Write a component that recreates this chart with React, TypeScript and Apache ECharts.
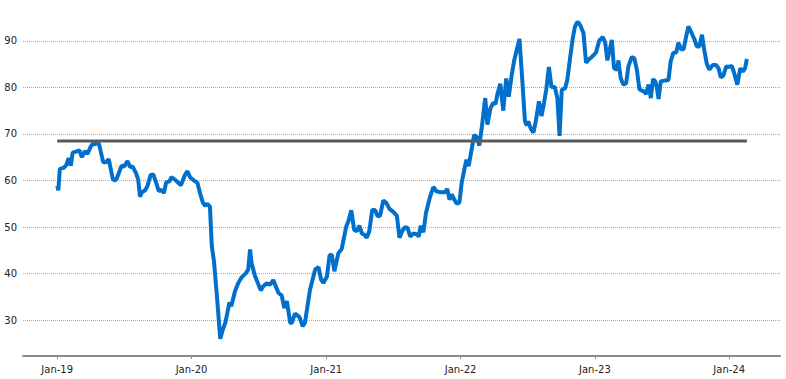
import React, { useEffect, useRef } from "react";
import * as echarts from "echarts";

const dates: string[] = [
  "2019-01-01","2019-01-04","2019-01-08","2019-01-18","2019-01-25","2019-02-01","2019-02-07","2019-02-12","2019-02-21","2019-03-02",
  "2019-03-09","2019-03-17","2019-03-24","2019-04-02","2019-04-09","2019-04-14","2019-04-20","2019-04-25","2019-05-06","2019-05-14",
  "2019-05-21","2019-06-01","2019-06-07","2019-06-12","2019-06-25","2019-07-02","2019-07-11","2019-07-18","2019-07-25","2019-08-03",
  "2019-08-09","2019-08-14","2019-08-19","2019-08-28","2019-09-03","2019-09-12","2019-09-19","2019-09-27","2019-10-04","2019-10-11",
  "2019-10-18","2019-10-24","2019-11-02","2019-11-07","2019-11-17","2019-11-26","2019-12-03","2019-12-14","2019-12-21","2019-12-28",
  "2020-01-11","2020-01-17","2020-01-24","2020-02-01","2020-02-07","2020-02-13","2020-02-20","2020-02-25","2020-03-02","2020-03-10",
  "2020-03-19","2020-03-26","2020-04-02","2020-04-13","2020-04-18","2020-04-28","2020-05-07","2020-05-16","2020-05-28","2020-06-03",
  "2020-06-08","2020-06-12","2020-06-21","2020-07-07","2020-07-14","2020-07-23","2020-08-01","2020-08-10","2020-08-24","2020-09-02",
  "2020-09-09","2020-09-16","2020-09-25","2020-09-29","2020-10-08","2020-10-20","2020-10-29","2020-11-04","2020-11-18","2020-12-02",
  "2020-12-11","2020-12-18","2020-12-24","2021-01-03","2021-01-10","2021-01-16","2021-01-23","2021-02-03","2021-02-12","2021-02-24",
  "2021-03-02","2021-03-10","2021-03-18","2021-03-25","2021-04-01","2021-04-08","2021-04-14","2021-04-21","2021-04-28","2021-05-06",
  "2021-05-14","2021-05-20","2021-05-27","2021-06-05","2021-06-13","2021-06-22","2021-07-03","2021-07-12","2021-07-19","2021-07-26",
  "2021-08-03","2021-08-10","2021-08-17","2021-08-26","2021-09-06","2021-09-09","2021-09-15","2021-09-22","2021-09-29","2021-10-10",
  "2021-10-19","2021-10-27","2021-11-06","2021-11-20","2021-11-26","2021-12-02","2021-12-08","2021-12-15","2021-12-22","2021-12-29",
  "2022-01-04","2022-01-11","2022-01-17","2022-01-23","2022-02-07","2022-02-14","2022-02-21","2022-02-28","2022-03-09","2022-03-15",
  "2022-03-23","2022-03-31","2022-04-06","2022-04-11","2022-04-19","2022-04-27","2022-05-05","2022-05-12","2022-05-20","2022-05-27",
  "2022-06-03","2022-06-10","2022-06-17","2022-06-25","2022-06-30","2022-07-04","2022-07-11","2022-07-18","2022-07-25","2022-08-02",
  "2022-08-09","2022-08-16","2022-08-22","2022-08-29","2022-09-05","2022-09-14","2022-09-21","2022-09-27","2022-10-03","2022-10-12",
  "2022-10-18","2022-10-26","2022-11-02","2022-11-08","2022-11-15","2022-11-22","2022-12-01","2022-12-08","2022-12-17","2022-12-27",
  "2023-01-04","2023-01-13","2023-01-23","2023-01-29","2023-02-04","2023-02-16","2023-02-22","2023-03-02","2023-03-06","2023-03-12",
  "2023-03-19","2023-03-27","2023-04-02","2023-04-11","2023-04-18","2023-04-25","2023-05-02","2023-05-09","2023-05-15","2023-05-20",
  "2023-05-27","2023-06-02","2023-06-08","2023-06-14","2023-06-18","2023-06-23","2023-06-29","2023-07-11","2023-07-20","2023-07-26",
  "2023-08-02","2023-08-10","2023-08-16","2023-08-23","2023-08-30","2023-09-06","2023-09-12","2023-09-19","2023-09-28","2023-10-05",
  "2023-10-12","2023-10-19","2023-10-25","2023-11-01","2023-11-08","2023-11-17","2023-11-26","2023-12-03","2023-12-09","2023-12-16",
  "2023-12-24","2023-12-31","2024-01-08","2024-01-14","2024-01-23","2024-01-31","2024-02-07","2024-02-13","2024-02-18",
];

const values: number[] = [
  58.8,57.9,62.5,62.7,63.2,64.8,63.2,66.0,66.2,66.5,
  65.0,66.3,65.7,67.3,68.0,67.7,68.4,67.7,63.9,63.9,
  64.6,60.3,60.0,60.5,63.2,63.0,64.2,62.9,63.0,61.6,
  60.2,56.5,57.5,57.9,58.8,61.2,61.3,59.5,57.7,58.0,
  57.3,59.6,59.8,60.7,60.2,59.5,59.0,61.2,62.0,60.7,
  59.8,59.5,57.3,55.2,54.6,55.0,54.4,45.9,42.6,35.1,
  26.0,28.0,29.5,33.8,33.0,36.2,38.0,39.2,40.1,40.9,
  45.2,42.3,39.6,36.4,37.3,37.9,37.6,38.6,35.9,35.3,
  32.6,34.1,29.5,29.3,31.4,30.7,28.7,29.4,36.6,40.9,
  41.4,38.7,38.0,39.4,43.9,44.1,40.5,44.4,45.3,50.0,
  51.2,53.6,49.4,49.1,50.3,48.6,48.4,47.7,49.1,53.7,
  53.6,52.4,52.4,55.7,55.2,53.9,53.2,52.4,47.7,49.1,
  50.0,49.8,48.0,48.6,48.4,47.9,50.3,48.9,53.0,56.5,
  58.6,57.7,57.5,57.5,58.2,55.9,57.0,55.9,55.0,55.3,
  59.5,62.3,64.5,63.1,69.8,69.3,67.5,71.6,77.7,72.0,
  75.5,76.7,76.4,78.5,80.8,75.0,81.9,78.0,82.7,85.9,
  88.2,90.4,82.4,72.7,71.8,72.7,71.1,70.3,73.0,77.0,
  73.8,76.8,79.6,84.4,80.1,80.1,77.7,69.6,79.5,79.8,
  81.6,86.6,90.6,93.1,94.1,93.4,91.7,85.3,86.1,86.8,
  87.5,90.1,90.8,89.6,85.8,90.2,84.1,83.8,85.8,82.0,
  80.6,80.9,84.5,86.5,86.3,83.8,79.6,79.3,79.1,78.6,
  80.6,77.7,81.8,81.3,80.1,77.5,81.3,81.5,81.6,85.6,
  87.4,87.5,89.6,88.2,88.2,90.9,93.1,92.0,90.4,88.8,
  88.8,91.3,88.1,85.1,83.8,84.8,84.8,84.1,82.2,82.5,
  84.5,84.4,84.6,83.2,80.6,84.1,83.4,84.1,86.1,
];

const averageValue = 68.5;
const averageDates: string[] = ["2019-01-01", "2024-02-18"];

const yTicks: number[] = [30, 40, 50, 60, 70, 80, 90];
const xTickDates: string[] = ["2019-01-01", "2020-01-01", "2021-01-01", "2022-01-01", "2023-01-01", "2024-01-01"];

const ts = (s: string) => new Date(s + "T00:00:00").getTime();

export default function App() {
  const ref = useRef<HTMLDivElement>(null);
  useEffect(() => {
    if (!ref.current) return;
    const chart = echarts.init(ref.current, null, { renderer: "svg" });
    const mainData = dates.map((d, i) => [ts(d), values[i]]);
    const avgData = averageDates.map((d) => [ts(d), averageValue]);
    const xTicks = xTickDates.map(ts);
    chart.setOption({
      animation: false,
      backgroundColor: "#ffffff",
      grid: { left: 23, right: 6, top: 5, bottom: 23, containLabel: false },
      xAxis: {
        type: "value",
        min: ts("2018-09-30"),
        max: ts("2024-05-18"),
        axisLine: { show: true, lineStyle: { color: "#8a8a8a", width: 2 } },
        axisTick: { show: true, customValues: xTicks, length: 3, lineStyle: { color: "#8a8a8a", width: 1 } },
        axisLabel: {
          customValues: xTicks,
          formatter: (v: number) => {
            const d = new Date(v);
            return "Jan-" + String(d.getFullYear()).slice(2);
          },
          color: "#222",
          fontFamily: "DejaVu Sans",
          fontSize: 10,
          margin: 8,
          hideOverlap: false,
          showMinLabel: true,
          showMaxLabel: true,
        },
        splitLine: { show: false },
      },
      yAxis: {
        type: "value",
        min: 22.3,
        max: 97.7,
        axisLine: { show: false },
        axisTick: { show: false, customValues: yTicks },
        axisLabel: {
          customValues: yTicks,
          color: "#222",
          fontFamily: "DejaVu Sans",
          fontSize: 10,
          margin: 6,
        },
        splitLine: { show: true, lineStyle: { color: "#b5aa9e", type: "dotted", width: 1 } },
      },
      series: [
        {
          type: "line",
          data: mainData,
          showSymbol: false,
          lineStyle: { color: "#0070cc", width: 4 },
          z: 2,
        },
        {
          type: "line",
          data: avgData,
          showSymbol: false,
          lineStyle: { color: "#5a5a5a", width: 3 },
          z: 3,
        },
      ],
    });
    return () => chart.dispose();
  }, []);
  return <div ref={ref} style={{ position: "fixed", left: 0, top: 0, width: 786, height: 379 }} />;
}
